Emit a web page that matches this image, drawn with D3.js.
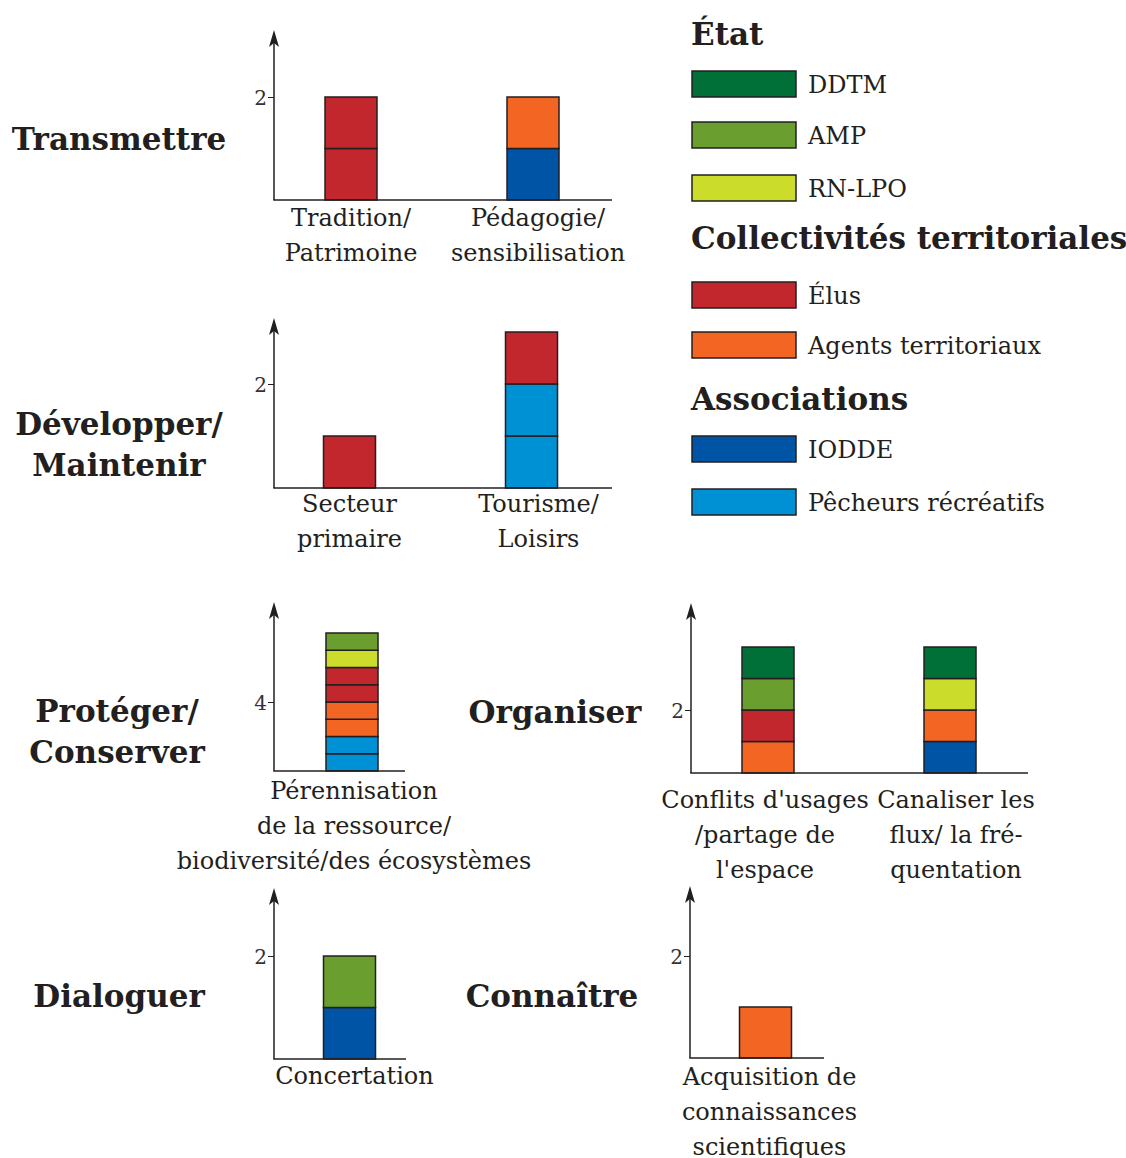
<!DOCTYPE html>
<html><head><meta charset="utf-8">
<script src="https://cdn.jsdelivr.net/npm/d3@7"></script>
<style>body{margin:0;background:#fff}svg{display:block}</style>
</head><body>
<script>
// ---- DATA ----
const categories = [
  ["Tradition/", "Patrimoine"],
  ["Pédagogie/", "sensibilisation"],
  ["Secteur", "primaire"],
  ["Tourisme/", "Loisirs"],
  ["Pérennisation", "de la ressource/", "biodiversité/des écosystèmes"],
  ["Conflits d'usages", "/partage de", "l'espace"],
  ["Canaliser les", "flux/ la fré-", "quentation"],
  ["Concertation"],
  ["Acquisition de", "connaissances", "scientifiques"]
];
// series in stacking order, bottom to top
const seriesNames = ["Pêcheurs récréatifs", "IODDE", "Agents territoriaux", "Élus", "RN-LPO", "AMP", "DDTM"];
const pecheurs = [0, 0, 0, 2, 2, 0, 0, 0, 0];
const iodde    = [0, 1, 0, 0, 0, 0, 1, 1, 0];
const agents   = [0, 1, 0, 0, 2, 1, 1, 0, 1];
const elus     = [2, 0, 1, 1, 2, 1, 0, 0, 0];
const rnlpo    = [0, 0, 0, 0, 1, 0, 1, 0, 0];
const amp      = [0, 0, 0, 0, 1, 1, 0, 1, 0];
const ddtm     = [0, 0, 0, 0, 0, 1, 1, 0, 0];
const seriesValues = [pecheurs, iodde, agents, elus, rnlpo, amp, ddtm];
const colors = ["#0091d5", "#0054a6", "#f26522", "#c1272d", "#cbdd2a", "#6a9e2f", "#007038"];

const panelTitles = [["Transmettre"], ["Développer/", "Maintenir"], ["Protéger/", "Conserver"], ["Organiser"], ["Dialoguer"], ["Connaître"]];
const panelCats = [[0, 1], [2, 3], [4], [5, 6], [7], [8]];
const panelTicks = [[2], [2], [4], [2], [2], [2]];

const legendGroups = [
  {title: "État", items: ["DDTM", "AMP", "RN-LPO"]},
  {title: "Collectivités territoriales", items: ["Élus", "Agents territoriaux"]},
  {title: "Associations", items: ["IODDE", "Pêcheurs récréatifs"]}
];

// ---- LAYOUT ----
const W = 1126, H = 1158;
const serif = "'DejaVu Serif', serif";
const boldSerif = "'DejaVu Serif', serif";
const ink = "#231f20";
const labelSize = 24;
const labelDx = [0, 5, 0, 7, 2, -3, 6, 5, 4];
const layout = [
  {ax: 274, xEnd: 612, c: [351, 533], base: 200, tickVal: 2, tickY: 97, top: 30, title: {x: 119, y: 150}, labY: 226},
  {ax: 274, xEnd: 612, c: [349.5, 531.5], base: 488, tickVal: 2, tickY: 384, top: 318, title: {x: 119, y: 435}, labY: 512},
  {ax: 274, xEnd: 405, c: [352], base: 771, tickVal: 4, tickY: 702, top: 602, title: {x: 117, y: 722}, labY: 799},
  {ax: 691, xEnd: 1028, c: [768, 950], base: 773, tickVal: 2, tickY: 710, top: 603, title: {x: 555, y: 723}, labY: 808},
  {ax: 274, xEnd: 406, c: [349.5], base: 1059, tickVal: 2, tickY: 956, top: 888, title: {x: 119, y: 1007}, labY: 1084},
  {ax: 690, xEnd: 824, c: [765.5], base: 1058, tickVal: 2, tickY: 956, top: 886, title: {x: 552, y: 1007}, labY: 1085}
];
const barW = 52;

const svg = d3.select("body").append("svg").attr("width", W).attr("height", H);

layout.forEach((L, pi) => {
  const g = svg.append("g");
  const cats = panelCats[pi];
  const y = d3.scaleLinear().domain([0, L.tickVal]).range([L.base, L.tickY]);
  const x = d3.scaleOrdinal().domain(cats).range(L.c);

  // stacked unit segments
  cats.forEach(ci => {
    let acc = 0;
    seriesValues.forEach((vals, si) => {
      for (let k = 0; k < vals[ci]; k++) {
        g.append("rect")
          .attr("x", x(ci) - barW / 2).attr("width", barW)
          .attr("y", y(acc + 1)).attr("height", y(acc) - y(acc + 1))
          .attr("fill", colors[si]).attr("stroke", ink).attr("stroke-width", 1.5);
        acc += 1;
      }
    });
  });

  // axes
  const yAxis = d3.axisLeft(y).tickValues(panelTicks[pi]).tickSize(6).tickSizeOuter(0).tickFormat(d3.format("d"));
  const ya = g.append("g").attr("transform", `translate(${L.ax},0)`).call(yAxis);
  ya.select(".domain").remove();
  ya.selectAll(".tick line").attr("stroke", ink).attr("stroke-width", 1);
  ya.selectAll(".tick text").attr("font-family", serif).attr("font-size", 20).attr("fill", "#333")
    .attr("x", -7).attr("dy", "0.35em");
  g.append("line").attr("x1", L.ax).attr("x2", L.ax).attr("y1", L.base).attr("y2", L.top + 8)
    .attr("stroke", ink).attr("stroke-width", 1.5);
  g.append("path")
    .attr("d", `M${L.ax},${L.top} L${L.ax + 5},${L.top + 17} L${L.ax},${L.top + 13} L${L.ax - 5},${L.top + 17} Z`)
    .attr("fill", ink);
  g.append("line").attr("x1", L.ax - 0.75).attr("x2", L.xEnd).attr("y1", L.base).attr("y2", L.base)
    .attr("stroke", ink).attr("stroke-width", 1.5);

  // category labels
  cats.forEach(ci => {
    const t = g.append("text").attr("text-anchor", "middle").attr("font-family", serif)
      .attr("font-size", labelSize).attr("fill", ink);
    categories[ci].forEach((line, li) => {
      t.append("tspan").attr("x", x(ci) + labelDx[ci]).attr("y", L.labY + li * 35).text(line);
    });
  });

  // panel title
  const tt = g.append("text").attr("text-anchor", "middle").attr("font-family", boldSerif)
    .attr("font-weight", "bold").attr("font-size", 31).attr("fill", ink);
  panelTitles[pi].forEach((line, li) => {
    tt.append("tspan").attr("x", L.title.x).attr("y", L.title.y + li * 41).text(line);
  });
});

// ---- LEGEND ----
const colorByName = {};
seriesNames.forEach((n, i) => colorByName[n] = colors[i]);
const legTitleY = [45, 249, 410];
const legItemY = [[71, 122, 175], [282, 332], [436, 489]];
legendGroups.forEach((grp, gi) => {
  svg.append("text").attr("x", 691).attr("y", legTitleY[gi]).attr("font-family", boldSerif)
    .attr("font-weight", "bold").attr("font-size", 31).attr("fill", ink).text(grp.title);
  grp.items.forEach((it, ii) => {
    const yy = legItemY[gi][ii];
    svg.append("rect").attr("x", 692).attr("y", yy).attr("width", 104).attr("height", 26)
      .attr("fill", colorByName[it]).attr("stroke", ink).attr("stroke-width", 1.5);
    svg.append("text").attr("x", 808).attr("y", yy + 22).attr("font-family", serif)
      .attr("font-size", labelSize).attr("fill", ink).text(it);
  });
});
</script>
</body></html>
